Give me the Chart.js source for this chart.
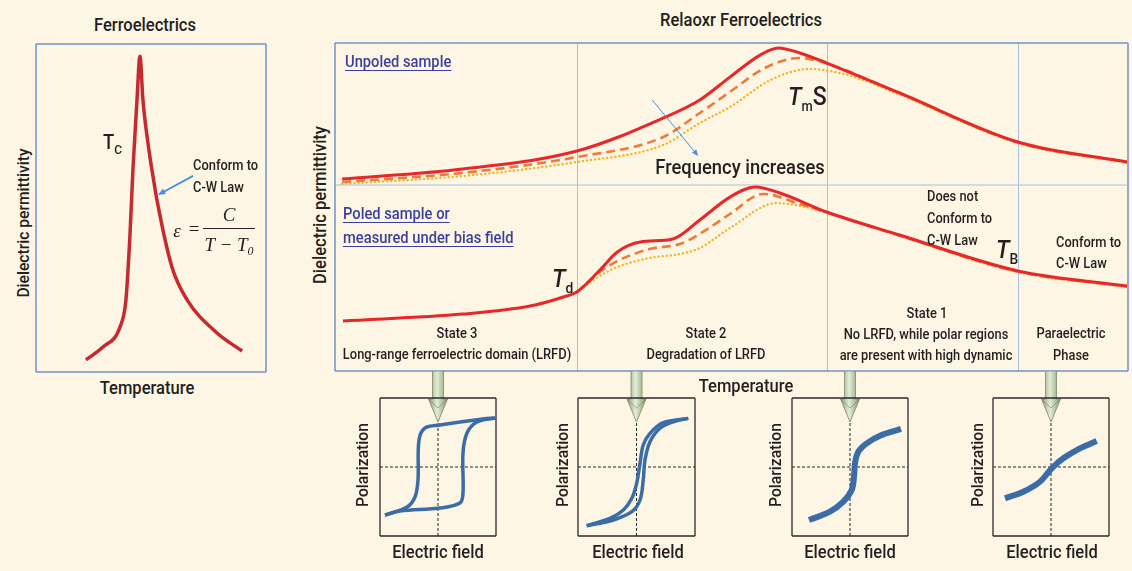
<!DOCTYPE html>
<html>
<head>
<meta charset="utf-8">
<script src="https://cdn.jsdelivr.net/npm/chart.js@4.4.0/dist/chart.umd.min.js"></script>
<style>
  html, body { margin: 0; padding: 0; background: #fdf6e4; }
  #page { position: relative; width: 1132px; height: 571px; overflow: hidden;
          font-family: Roboto, "DejaVu Sans Condensed", sans-serif; font-weight: 500; color: #231f20; }
  #page canvas { position: absolute; }
  .t { position: absolute; white-space: nowrap; line-height: 1; }
  .blue { color: #3b3f9d; text-decoration: underline; text-decoration-thickness: 1px; text-underline-offset: 3px; }
  .sym i { font-style: italic; }
  .eq { font-family: "Liberation Serif", "DejaVu Serif", serif; font-style: italic; font-weight: 400; }
</style>
</head>
<body>
<div id="page"></div>
<script>
// ---- ordinary ferroelectric (left panel) ----
const feTemp = [21.7, 29.1, 36.5, 39.1, 40.9, 42.2, 43.9, 45.2, 46.5, 49.1, 50.9, 52.6, 59.1, 65.7, 78.7, 89.6];
const fePerm = [3.7, 7.6, 13.7, 22.0, 42.4, 62.5, 82.9, 96.3, 82.9, 67.7, 59.5, 52.4, 32.0, 22.0, 11.9, 6.4];

// ---- relaxor, unpoled sample: low / mid / high frequency ----
const upTempLow = [0.9, 16.1, 30.5, 41.4, 46.0, 49.8, 53.6, 55.9, 58.6, 62.0, 71.2, 86.1, 99.9];
const upPermLow = [4.2, 11.3, 23.9, 47.2, 59.9, 76.0, 91.5, 96.5, 93.0, 85.9, 64.8, 30.3, 16.2];
const upTempMid = [0.9, 16.1, 30.5, 41.4, 46.0, 49.8, 54.2, 58.6, 62.0, 71.2, 86.1, 99.9];
const upPermMid = [2.1, 8.5, 19.7, 33.8, 50.7, 65.5, 82.4, 89.4, 85.6, 64.5, 30.0, 15.9];
const upTempHigh = [0.9, 16.1, 30.5, 41.4, 46.0, 49.8, 54.9, 59.9, 64.6, 71.2, 86.1, 99.9];
const upPermHigh = [0.7, 6.3, 16.2, 28.2, 43.7, 54.9, 73.9, 81.7, 77.5, 63.6, 29.6, 15.5];

// ---- relaxor, poled sample / bias field ----
const poTempLow = [1.0, 16.1, 24.6, 28.8, 30.5, 33.4, 35.6, 38.5, 42.6, 46.0, 49.8, 53.0, 56.1, 62.0, 71.2, 86.1, 99.9];
const poPermLow = [26.9, 30.6, 34.9, 39.8, 42.5, 54.3, 64.0, 69.4, 71.0, 81.2, 93.5, 98.9, 95.7, 85.5, 73.1, 53.8, 45.7];
const poTempMid = [30.5, 33.4, 35.6, 39.7, 43.5, 46.0, 49.8, 54.0, 58.6, 62.0, 71.2, 86.1, 99.9];
const poPermMid = [42.5, 53.2, 59.1, 65.6, 68.3, 73.7, 84.4, 95.2, 89.8, 85.3, 72.8, 53.5, 45.4];
const poTempHigh = [30.5, 33.4, 35.6, 39.7, 43.5, 46.0, 49.8, 55.7, 59.9, 64.6, 71.2, 86.1, 99.9];
const poPermHigh = [42.5, 51.1, 55.9, 60.8, 62.9, 66.1, 76.9, 90.3, 87.6, 81.7, 72.6, 53.2, 45.2];

// temperature boundaries between the states (Td, Tm, TB)
const stateBounds = [30.5, 62.0, 86.1];

// ---- P-E loops below each state (normalised field / polarization) ----
const loop3UpE = [-0.914, -0.655, 0.034, 0.379, 0.431, 0.431, 0.5, 0.672, 0.983];
const loop3UpP = [-0.696, -0.638, -0.594, -0.522, -0.377, 0.203, 0.493, 0.652, 0.71];
const loop3DnE = [0.983, 0.776, 0.034, -0.224, -0.328, -0.345, -0.397, -0.534, -0.914];
const loop3DnP = [0.71, 0.696, 0.609, 0.565, 0.391, -0.188, -0.435, -0.58, -0.696];

const loop2UpE = [-0.851, -0.396, -0.08, 0.06, 0.115, 0.145, 0.231, 0.402, 0.629, 0.885];
const loop2UpP = [-0.851, -0.768, -0.648, -0.478, -0.188, 0.101, 0.367, 0.561, 0.656, 0.705];
const loop2DnE = [0.885, 0.458, 0.231, 0.115, 0.06, 0.003, -0.08, -0.224, -0.453, -0.851];
const loop2DnP = [0.705, 0.642, 0.488, 0.319, 0.053, -0.237, -0.454, -0.623, -0.744, -0.851];

const loop1E = [-0.707, -0.345, -0.115, 0.029, 0.069, 0.086, 0.143, 0.288, 0.517, 0.879];
const loop1P = [-0.768, -0.647, -0.503, -0.333, -0.141, 0.053, 0.222, 0.343, 0.454, 0.551];

const paraE = [-0.793, -0.478, -0.19, 0.012, 0.212, 0.5, 0.788];
const paraP = [-0.454, -0.358, -0.213, -0.019, 0.126, 0.271, 0.377];

const page = document.getElementById('page');
const pts = (xs, ys) => xs.map((x, i) => ({ x: x, y: ys[i] }));

// box outline around the plot area
const framePlugin = {
  id: 'frame',
  afterDraw(chart, args, opts) {
    const a = chart.chartArea, ctx = chart.ctx;
    const edges = {
      t: [a.left, a.top, a.right, a.top], r: [a.right, a.top, a.right, a.bottom],
      b: [a.left, a.bottom, a.right, a.bottom], l: [a.left, a.top, a.left, a.bottom]
    };
    const sides = opts.sides || 'trbl';
    ctx.save();
    for (const s of 'trbl') {
      const outer = sides.includes(s);
      if (!outer && !opts.inner) continue;
      ctx.strokeStyle = outer ? opts.color : opts.inner;
      ctx.lineWidth = outer ? (opts.width || 1.5) : 1;
      const e = edges[s];
      ctx.beginPath(); ctx.moveTo(e[0], e[1]); ctx.lineTo(e[2], e[3]); ctx.stroke();
    }
    ctx.restore();
  }
};

// thin vertical lines at the state boundaries
const boundsPlugin = {
  id: 'bounds',
  beforeDatasetsDraw(chart, args, opts) {
    if (!opts.at) return;
    const ctx = chart.ctx, a = chart.chartArea, x = chart.scales.x;
    ctx.save();
    ctx.strokeStyle = opts.color; ctx.lineWidth = 1;
    opts.at.forEach(v => {
      const px = Math.round(x.getPixelForValue(v)) + 0.5;
      ctx.beginPath(); ctx.moveTo(px, a.top); ctx.lineTo(px, a.bottom); ctx.stroke();
    });
    ctx.restore();
  }
};

// small annotation arrow given in data coordinates
const pointerPlugin = {
  id: 'pointer',
  afterDatasetsDraw(chart, args, opts) {
    if (!opts.from) return;
    const ctx = chart.ctx, x = chart.scales.x, y = chart.scales.y;
    const x0 = x.getPixelForValue(opts.from[0]), y0 = y.getPixelForValue(opts.from[1]);
    const x1 = x.getPixelForValue(opts.to[0]), y1 = y.getPixelForValue(opts.to[1]);
    const ang = Math.atan2(y1 - y0, x1 - x0), hl = opts.head || 7;
    ctx.save();
    ctx.strokeStyle = ctx.fillStyle = opts.color;
    ctx.lineWidth = opts.width || 1;
    ctx.beginPath(); ctx.moveTo(x0, y0);
    ctx.lineTo(x1 - Math.cos(ang) * hl * 0.7, y1 - Math.sin(ang) * hl * 0.7); ctx.stroke();
    ctx.beginPath(); ctx.moveTo(x1, y1);
    ctx.lineTo(x1 - hl * Math.cos(ang - 0.4), y1 - hl * Math.sin(ang - 0.4));
    ctx.lineTo(x1 - hl * Math.cos(ang + 0.4), y1 - hl * Math.sin(ang + 0.4));
    ctx.closePath(); ctx.fill();
    ctx.restore();
  }
};

// green arrow dropping from the state column into the loop panel
const dropPlugin = {
  id: 'drop',
  afterDatasetsDraw(chart) {
    const ctx = chart.ctx, a = chart.chartArea;
    const cx = chart.scales.x.getPixelForValue(0);
    const y0 = 0, yh = a.top + 1, yt = a.top + 24, sw = 5.5, hw = 9.5;
    const g = ctx.createLinearGradient(cx - hw, 0, cx + hw, 0);
    g.addColorStop(0, '#8e9d79'); g.addColorStop(0.45, '#e4ecd6');
    g.addColorStop(0.6, '#c9d6b6'); g.addColorStop(1, '#8a9875');
    ctx.save();
    ctx.fillStyle = g; ctx.strokeStyle = '#7b8a67'; ctx.lineWidth = 0.8;
    ctx.beginPath();
    ctx.moveTo(cx - sw, y0); ctx.lineTo(cx - sw, yh); ctx.lineTo(cx - hw, yh);
    ctx.lineTo(cx, yt); ctx.lineTo(cx + hw, yh); ctx.lineTo(cx + sw, yh);
    ctx.lineTo(cx + sw, y0); ctx.closePath();
    ctx.fill(); ctx.stroke();
    ctx.strokeStyle = 'rgba(110,125,90,0.7)';
    ctx.beginPath(); ctx.moveTo(cx - hw + 1, yh + 1); ctx.lineTo(cx, yh + 9); ctx.lineTo(cx + hw - 1, yh + 1); ctx.stroke();
    ctx.restore();
  }
};

function plot(box, pad, xr, yr, datasets, pluginOpts, plugins) {
  const c = document.createElement('canvas');
  const w = box[2] + pad.left + pad.right, h = box[3] + pad.top + pad.bottom;
  c.width = w; c.height = h;
  c.style.left = (box[0] - pad.left) + 'px'; c.style.top = (box[1] - pad.top) + 'px';
  c.style.width = w + 'px'; c.style.height = h + 'px';
  page.appendChild(c);
  return new Chart(c, {
    type: 'line',
    data: { datasets: datasets },
    options: {
      responsive: false, animation: false, devicePixelRatio: 1,
      layout: { padding: pad },
      scales: {
        x: { type: 'linear', display: false, min: xr[0], max: xr[1] },
        y: { type: 'linear', display: false, min: yr[0], max: yr[1] }
      },
      elements: { point: { radius: 0 } },
      plugins: Object.assign({ legend: { display: false }, tooltip: { enabled: false } }, pluginOpts)
    },
    plugins: plugins
  });
}

const solid = { borderColor: '#e8272a', borderWidth: 3, cubicInterpolationMode: 'monotone' };
const dashed = { borderColor: '#ee7b3a', borderWidth: 2.6, borderDash: [9, 5], cubicInterpolationMode: 'monotone' };
const dotted = { borderColor: '#f6b324', borderWidth: 2.4, borderDash: [0.1, 4], borderCapStyle: 'round', cubicInterpolationMode: 'monotone' };
const pad3 = { left: 3, right: 3, top: 3, bottom: 3 };

// left: sharp Curie peak
plot([36, 44, 230, 328], pad3, [0, 100], [0, 100], [
  Object.assign({ data: pts(feTemp, fePerm) }, solid, { borderColor: '#c62a2f', borderWidth: 3.5 })
], {
  frame: { color: '#6f92c6' },
  pointer: { from: [68.3, 59.8], to: [53.0, 54.0], color: '#4a8fdc', width: 1.8, head: 8 }
}, [framePlugin, pointerPlugin]);

// relaxor, unpoled
plot([335, 43, 793, 142], pad3, [0, 100], [0, 100], [
  Object.assign({ data: pts(upTempLow, upPermLow) }, solid),
  Object.assign({ data: pts(upTempMid, upPermMid) }, dashed),
  Object.assign({ data: pts(upTempHigh, upPermHigh) }, dotted)
], {
  frame: { color: '#6f92c6', sides: 'trl', inner: '#a9bfdc' },
  bounds: { at: stateBounds, color: '#a9bfdc' },
  pointer: { from: [40.0, 59.9], to: [45.8, 20.4], color: '#4d8fd6', width: 1, head: 7 }
}, [boundsPlugin, framePlugin, pointerPlugin]);

// relaxor, poled / under bias
plot([335, 185, 793, 186], pad3, [0, 100], [0, 100], [
  Object.assign({ data: pts(poTempLow, poPermLow) }, solid),
  Object.assign({ data: pts(poTempMid, poPermMid) }, dashed),
  Object.assign({ data: pts(poTempHigh, poPermHigh) }, dotted)
], {
  frame: { color: '#6f92c6', sides: 'rbl' },
  bounds: { at: stateBounds, color: '#a9bfdc' }
}, [boundsPlugin, framePlugin]);

// P-E panels
const axisDash = { borderColor: '#222', borderWidth: 1, borderDash: [3, 2], tension: 0 };
function loopPanel(box, curves, lw) {
  const ds = curves.map(c => ({ data: pts(c[0], c[1]), borderColor: '#3b6ca8', borderWidth: lw,
    tension: 0.35, borderCapStyle: 'butt' }));
  ds.push(Object.assign({ data: [{ x: -1, y: 0 }, { x: 1, y: 0 }] }, axisDash));
  ds.push(Object.assign({ data: [{ x: 0, y: -1 }, { x: 0, y: 1 }] }, axisDash));
  plot(box, { left: 3, right: 3, top: 27, bottom: 3 }, [-1, 1], [-1, 1], ds,
    { frame: { color: '#2a2a2a', width: 1.3 } }, [framePlugin, dropPlugin]);
}
loopPanel([380, 398, 116, 138], [[loop3UpE, loop3UpP], [loop3DnE, loop3DnP]], 3.5);
loopPanel([578, 398, 117, 138], [[loop2UpE, loop2UpP], [loop2DnE, loop2DnP]], 3.5);
loopPanel([792, 398, 116, 138], [[loop1E, loop1P]], 6);
loopPanel([993, 398, 116, 138], [[paraE, paraP]], 6);

// ---- text ----
const SQ = 0.92; // horizontal squeeze for the condensed look
function txt(html, x, y, size, o) {
  o = o || {};
  const d = document.createElement('div');
  d.className = 't ' + (o.cls || '');
  d.innerHTML = html;
  d.style.left = x + 'px'; d.style.top = y + 'px';
  d.style.fontSize = size + 'px';
  const sq = o.sq || SQ;
  let tr;
  if (o.left) { tr = 'translate(0,-50%) scaleX(' + sq + ')'; d.style.transformOrigin = '0 50%'; }
  else tr = 'translate(-50%,-50%)' + (o.rot ? ' rotate(-90deg)' : '') + ' scaleX(' + sq + ')';
  d.style.transform = tr;
  page.appendChild(d);
  return d;
}
const sub = (s, sz, dy) => '<span style="font-size:' + sz + 'px;position:relative;top:' + dy + 'px">' + s + '</span>';

txt('Ferroelectrics', 145, 25, 18);
txt('Dielectric permittivity', 23, 223, 17, { rot: true });
txt('Temperature', 147, 388, 18);
txt('T' + sub('C', 13, 5), 103, 142, 20, { left: true });
txt('Conform to', 193, 165, 14, { left: true });
txt('C-W Law', 193, 187, 14, { left: true });
txt('ε', 177, 230, 19, { cls: 'eq', sq: 1 });
txt('=', 194, 228, 19, { cls: 'eq', sq: 1 });
txt('C', 229, 214, 19, { cls: 'eq', sq: 1 });
txt('T − T' + sub('0', 12, 4), 229, 244, 19, { cls: 'eq', sq: 1 });
const bar = document.createElement('div');
bar.style.cssText = 'position:absolute;left:203px;top:228px;width:52px;height:1.3px;background:#222';
page.appendChild(bar);

txt('Relaoxr Ferroelectrics', 741, 20, 18);
txt('Dielectric permittivity', 320, 205, 18, { rot: true });
txt('Temperature', 746, 386, 18);
txt('Unpoled sample', 345, 62, 16, { left: true, cls: 'blue' });
txt('Poled sample or', 343, 214, 16, { left: true, cls: 'blue' });
txt('measured under bias field', 343, 238, 16, { left: true, cls: 'blue' });
txt('Frequency increases', 740, 167, 20);
txt('<i>T</i>' + sub('m', 14, 6) + 'S', 788, 96, 25, { left: true, cls: 'sym' });
txt('<i>T</i>' + sub('d', 15, 6), 552, 278, 25, { left: true, cls: 'sym' });
txt('<i>T</i>' + sub('B', 15, 6), 996, 249, 25, { left: true, cls: 'sym' });
txt('Does not', 927, 196, 14, { left: true });
txt('Conform to', 927, 218, 14, { left: true });
txt('C-W Law', 927, 240, 14, { left: true });
txt('Conform to', 1056, 242, 14, { left: true });
txt('C-W Law', 1056, 263, 14, { left: true });

txt('State 3', 457, 333, 14);
txt('Long-range ferroelectric domain (LRFD)', 457, 354, 14);
txt('State 2', 706, 333, 14);
txt('Degradation of LRFD', 706, 354, 14);
txt('State 1', 927, 313, 14);
txt('No LRFD, while polar regions', 926, 334, 14);
txt('are present with high dynamic', 926, 355, 14);
txt('Paraelectric', 1071, 333, 14);
txt('Phase', 1071, 355, 14);

[362, 562, 775, 977].forEach(x => txt('Polarization', x, 465, 17, { rot: true }));
[438, 638, 850, 1052].forEach(x => txt('Electric field', x, 552, 18));
</script>
</body>
</html>
